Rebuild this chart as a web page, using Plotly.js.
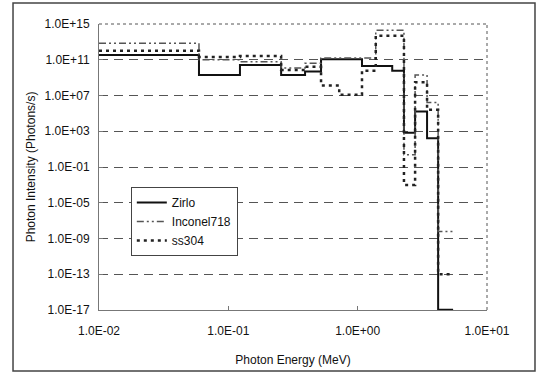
<!DOCTYPE html>
<html>
<head>
<meta charset="utf-8">
<script src="https://cdn.plot.ly/plotly-3.0.1.min.js"></script>
<style>
html,body{margin:0;padding:0;background:#fff;}
#chart{width:545px;height:374px;}
</style>
</head>
<body>
<div id="chart"></div>
<script>
// Energy group boundaries (MeV) and step values (photons/s)
var zirloE = [0.01, 0.0593, 0.123, 0.256, 0.392, 0.521, 1.08, 1.85, 2.28, 2.78, 3.44, 4.19, 5.47];
var zirloI = [3.5e11, 2e9, 2.6e10, 2e9, 4.7e9, 1.15e11, 2e10, 6e9, 7e2, 1.6e5, 1.7e2, 1.1e-17];

var inconelE = [0.01, 0.0593, 0.123, 0.256, 0.392, 0.521, 1.38, 2.28, 2.78, 3.44, 4.19, 5.47];
var inconelI = [7e12, 1e11, 6e10, 1.2e10, 4e10, 1.6e11, 2e14, 2.3, 2e9, 1.6e6, 6e-9];

var ssE = [0.01, 0.0593, 0.123, 0.256, 0.392, 0.521, 0.72, 1.08, 1.38, 2.28, 2.78, 3.44, 4.19, 5.47];
var ssI = [1e12, 2e11, 2.6e11, 7e9, 1.6e10, 1.3e8, 1.2e7, 6e9, 5e13, 1e-3, 3e8, 2.5e5, 1e-13];

var xTickVals = [0.01, 0.1, 1, 10];
var xTickText = ["1.0E-02", "1.0E-01", "1.0E+00", "1.0E+01"];
var yTickVals = [1e15, 1e11, 1e7, 1e3, 1e-1, 1e-5, 1e-9, 1e-13, 1e-17];
var yTickText = ["1.0E+15", "1.0E+11", "1.0E+07", "1.0E+03", "1.0E-01", "1.0E-05", "1.0E-09", "1.0E-13", "1.0E-17"];

function stepY(vals){ return vals.concat([vals[vals.length-1]]); }

var traces = [
  {x: zirloE, y: stepY(zirloI), name: "Zirlo", mode: "lines",
   line: {shape: "hv", color: "#111", width: 2}},
  {x: inconelE, y: stepY(inconelI), name: "Inconel718", mode: "lines",
   line: {shape: "hv", color: "#555", width: 1.5, dash: "7px,3px,2px,3px,2px,3px"}},
  {x: ssE, y: stepY(ssI), name: "ss304", mode: "lines",
   line: {shape: "hv", color: "#222", width: 2.5, dash: "3px,4px"}}
];

var font = {family: "Liberation Sans, Arial, sans-serif", size: 12, color: "#111"};

var layout = {
  width: 545, height: 374,
  margin: {l: 99, r: 58, t: 24, b: 64},
  paper_bgcolor: "#fff", plot_bgcolor: "#fff",
  font: font,
  showlegend: true,
  legend: {x: 0.082, y: 0.43, xanchor: "left", yanchor: "top",
           bgcolor: "#fff", bordercolor: "#444", borderwidth: 1,
           font: font, tracegroupgap: 0},
  xaxis: {type: "log", range: [-2, 1], tickvals: xTickVals, ticktext: xTickText,
          showgrid: false, zeroline: false, showline: true, linecolor: "#777", linewidth: 1,
          ticks: "inside", ticklen: 4, tickcolor: "#777", ticklabelstandoff: 10,
          title: {text: "Photon Energy (MeV)", font: font, standoff: 18}},
  yaxis: {type: "log", range: [-17, 15], tickvals: yTickVals, ticktext: yTickText,
          showgrid: true, gridcolor: "#555", gridwidth: 1, griddash: "9px,6px",
          zeroline: false, showline: true, linecolor: "#777", linewidth: 1,
          ticks: "inside", ticklen: 4, tickcolor: "#777", ticklabelstandoff: 6,
          title: {text: "Photon Intensity (Photons/s)", font: font, standoff: 6}},
  shapes: [
    {type: "line", xref: "paper", yref: "paper", x0: 0, x1: 1, y0: 1, y1: 1,
     line: {color: "#555", width: 1, dash: "dot"}},
    {type: "line", xref: "paper", yref: "paper", x0: 1, x1: 1, y0: 0, y1: 1,
     line: {color: "#555", width: 1, dash: "dot"}},
    {type: "rect", xref: "paper", yref: "paper", x0: -0.2216, x1: 1.1237, y0: -0.2133, y1: 1.0734,
     line: {color: "#444", width: 1.5}, fillcolor: "rgba(0,0,0,0)"}
  ]
};

Plotly.newPlot("chart", traces, layout, {staticPlot: true, displayModeBar: false});
</script>
</body>
</html>
